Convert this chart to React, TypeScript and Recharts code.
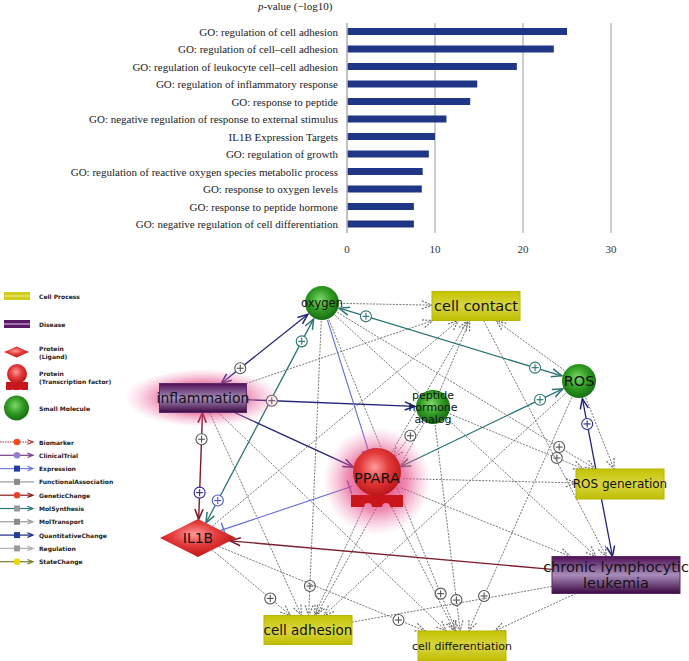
import React from "react";
import {
  BarChart,
  Bar,
  XAxis,
  YAxis,
  CartesianGrid,
  ReferenceLine,
  ScatterChart,
  Scatter,
} from "recharts";

// ---- enrichment bars ----
const goTerms = [
  "GO: regulation of cell adhesion",
  "GO: regulation of cell\u2013cell adhesion",
  "GO: regulation of leukocyte cell\u2013cell adhesion",
  "GO: regulation of inflammatory response",
  "GO: response to peptide",
  "GO: negative regulation of response to external stimulus",
  "IL1B Expression Targets",
  "GO: regulation of growth",
  "GO: regulation of reactive oxygen species metabolic process",
  "GO: response to oxygen levels",
  "GO: response to peptide hormone",
  "GO: negative regulation of cell differentiation",
];
const goScores = [25.0, 23.5, 19.3, 14.8, 14.0, 11.3, 10.0, 9.3, 8.6, 8.5, 7.6, 7.6];
const scoreTicks = [0, 10, 20, 30];

// ---- network ----
const nodeIds = ["oxygen", "cellContact", "ros", "inflammation", "peptide", "ppara", "il1b", "rosGen", "cll", "cellAdhesion", "cellDiff"];
const nodeLabels = ["oxygen", "cell contact", "ROS", "inflammation", "peptide\nhormone\nanalog", "PPARA", "IL1B", "ROS generation", "chronic lymphocytic\nleukemia", "cell adhesion", "cell differentiation"];
const nodeKinds = ["molecule", "process", "molecule", "disease", "molecule", "tf", "ligand", "process", "disease", "process", "process"];
const nodeX = [322, 476, 579, 203, 433, 377, 198, 620, 616, 308, 462];
const nodeY = [303, 306, 381, 398, 407, 478, 538, 484, 575, 630, 646];
const glowIds = ["inflammation", "ppara"];

// from, to, relation, heads, plus marks [t, colour]
type Edge = [string, string, string, string, [number, string][]];
const edges: Edge[] = [
  ["oxygen", "cellContact", "reg", "to", []],
  ["oxygen", "cellAdhesion", "reg", "to", [[0.9, "g"]]],
  ["oxygen", "cellDiff", "reg", "to", [[0.88, "g"]]],
  ["oxygen", "rosGen", "reg", "to", [[0.86, "g"]]],
  ["oxygen", "cll", "reg", "to", []],
  ["inflammation", "cellContact", "reg", "to", []],
  ["inflammation", "cellAdhesion", "reg", "to", []],
  ["inflammation", "cellDiff", "reg", "to", []],
  ["il1b", "cellContact", "reg", "to", []],
  ["il1b", "cellAdhesion", "reg", "to", [[0.74, "g"]]],
  ["il1b", "cellDiff", "reg", "to", [[0.87, "g"]]],
  ["ppara", "cellContact", "reg", "to", []],
  ["ppara", "rosGen", "reg", "to", []],
  ["ppara", "cll", "reg", "to", []],
  ["ppara", "cellAdhesion", "reg", "to", []],
  ["ppara", "cellDiff", "reg", "to", []],
  ["peptide", "ppara", "reg", "to", [[0.4, "g"]]],
  ["peptide", "cellContact", "reg", "to", []],
  ["peptide", "cellAdhesion", "reg", "to", []],
  ["peptide", "rosGen", "reg", "to", [[0.8, "g"]]],
  ["peptide", "cellDiff", "reg", "to", [[0.85, "g"]]],
  ["ros", "cellContact", "reg", "to", []],
  ["ros", "cellAdhesion", "reg", "to", []],
  ["ros", "cellDiff", "reg", "to", [[0.85, "g"]]],
  ["ros", "rosGen", "reg", "to", []],
  ["cellContact", "cll", "reg", "to", []],
  ["cll", "cellDiff", "reg", "to", []],
  ["cll", "cellAdhesion", "reg", "none", []],
  ["inflammation", "oxygen", "quant", "both", [[0.22, "g"]]],
  ["oxygen", "ros", "molsyn", "both", [[0.12, "t"], [0.88, "t"]]],
  ["il1b", "oxygen", "molsyn", "both", [[0.11, "b"], [0.89, "t"]]],
  ["inflammation", "il1b", "genetic", "both", [[0.25, "g"], [0.75, "n"]]],
  ["inflammation", "peptide", "quant", "to", [[0.15, "g"]]],
  ["inflammation", "ppara", "quant", "to", []],
  ["oxygen", "ppara", "expr", "tee", []],
  ["ppara", "il1b", "expr", "teeBoth", []],
  ["ros", "ppara", "molsyn", "both", [[0.14, "t"]]],
  ["ros", "cll", "quant", "both", [[0.16, "n"]]],
  ["cll", "il1b", "genetic", "to", []],
];

// ---- legend ----
const legendNodeLabels = ["Cell Process", "Disease", "Protein\n(Ligand)", "Protein\n(Transcription factor)", "Small Molecule"];
const legendNodeKinds = ["process", "disease", "ligand", "tf", "molecule"];
const legendEdgeLabels = ["Biomarker", "ClinicalTrial", "Expression", "FunctionalAssociation", "GeneticChange", "MolSynthesis", "MolTransport", "QuantitativeChange", "Regulation", "StateChange"];

// ---- styles ----
const NODE_BOX: Record<string, [number, number]> = {
  inflammation: [87, 29],
  cellContact: [88, 29],
  rosGen: [88, 30],
  cll: [128, 37],
  cellAdhesion: [88, 29],
  cellDiff: [88, 30],
};
const LABEL_SIZE: Record<string, number> = {
  oxygen: 11.5, cellContact: 14.5, ros: 14.5, inflammation: 14, peptide: 11, ppara: 14.5,
  il1b: 14, rosGen: 12, cll: 14.5, cellAdhesion: 13.5, cellDiff: 11,
};
const GLOW_SIZE: Record<string, [number, number, number]> = {
  inflammation: [78, 29, 0],
  ppara: [54, 54, 3],
};
const EDGE_STYLE: Record<string, { color: string; width: number; dash?: string }> = {
  quant: { color: "#23237a", width: 1.3 },
  molsyn: { color: "#2d7474", width: 1.3 },
  expr: { color: "#5f6bd0", width: 1.1 },
  genetic: { color: "#7b1d2b", width: 1.4 },
  reg: { color: "#666", width: 0.9, dash: "2 1.3" },
};
const MARK_COLOR: Record<string, string> = { g: "#555", n: "#2a2a8a", t: "#2d7474", b: "#4a55c8" };
const LEGEND_EDGE: Record<string, { line: string; mark: string; sq: boolean; arrow: boolean; dash?: string }> = {
  Biomarker: { line: "#a0303a", mark: "#f04a20", sq: false, arrow: true, dash: "1.5 1" },
  ClinicalTrial: { line: "#7a3a8a", mark: "#8f80d4", sq: false, arrow: true },
  Expression: { line: "#7080dc", mark: "#1f3fa0", sq: true, arrow: true },
  FunctionalAssociation: { line: "#a0a0a0", mark: "#8a8a8a", sq: true, arrow: false },
  GeneticChange: { line: "#8a1a1a", mark: "#e8402a", sq: false, arrow: true },
  MolSynthesis: { line: "#2a7a7a", mark: "#999", sq: true, arrow: true },
  MolTransport: { line: "#9a9a9a", mark: "#8a8a8a", sq: true, arrow: true },
  QuantitativeChange: { line: "#1a2a8a", mark: "#1f3fa0", sq: true, arrow: true },
  Regulation: { line: "#b0b0b0", mark: "#9a9a9a", sq: true, arrow: true },
  StateChange: { line: "#7a7a2a", mark: "#e8d800", sq: false, arrow: true },
};

const barData = goTerms.map((term, i) => ({ term, score: goScores[i] }));
const nodeData = nodeIds.map((id, i) => ({ id, label: nodeLabels[i], kind: nodeKinds[i], x: nodeX[i], y: nodeY[i] }));
const glowData = nodeData.filter((n) => glowIds.includes(n.id));
const nodeIndex = (id: string) => nodeIds.indexOf(id);

function TermTick(p: any) {
  return (
    <text x={p.x} y={p.y} textAnchor="end" dominantBaseline="central" fontSize={11} fontFamily="Liberation Serif" fill="#222">
      {p.payload.value}
    </text>
  );
}

function clip(cx: number, cy: number, ox: number, oy: number, id: string) {
  const dx = ox - cx, dy = oy - cy;
  const len = Math.hypot(dx, dy) || 1;
  const kind = nodeKinds[nodeIndex(id)];
  let t = 0;
  if (kind === "molecule") t = 18 / len;
  else if (kind === "tf") t = 26 / len;
  else if (kind === "ligand") t = 1 / (Math.abs(dx) / 38 + Math.abs(dy) / 19);
  else {
    const [w, h] = NODE_BOX[id];
    t = Math.min(w / 2 / (Math.abs(dx) || 1e-6), h / 2 / (Math.abs(dy) || 1e-6));
  }
  return { x: cx + dx * t, y: cy + dy * t };
}

function arrowHead(px: number, py: number, ux: number, uy: number, color: string, w: number, dash?: string, L = 11) {
  const c = Math.cos(0.38), s = Math.sin(0.38);
  const ax = px - L * (ux * c - uy * s), ay = py - L * (ux * s + uy * c);
  const bx = px - L * (ux * c + uy * s), by = py - L * (-ux * s + uy * c);
  return <polyline points={`${ax},${ay} ${px},${py} ${bx},${by}`} fill="none" stroke={color} strokeWidth={w + 0.2} strokeDasharray={dash} />;
}

function teeBar(px: number, py: number, ux: number, uy: number, color: string) {
  const qx = px - ux * 3, qy = py - uy * 3;
  return <line x1={qx - uy * 7} y1={qy + ux * 7} x2={qx + uy * 7} y2={qy - ux * 7} stroke={color} strokeWidth={1.4} />;
}

function plusMark(x: number, y: number, color: string, key: number) {
  return (
    <g key={key}>
      <circle cx={x} cy={y} r={5.5} fill="#fff" stroke={color} strokeWidth={1.1} />
      <line x1={x - 3.5} y1={y} x2={x + 3.5} y2={y} stroke={color} strokeWidth={1.1} />
      <line x1={x} y1={y - 3.5} x2={x} y2={y + 3.5} stroke={color} strokeWidth={1.1} />
    </g>
  );
}

function makeEdgeShape(e: Edge) {
  return (p: any) => {
    const { x1, y1, x2, y2 } = p;
    const a = clip(x1, y1, x2, y2, e[0]);
    const b = clip(x2, y2, x1, y1, e[1]);
    const st = EDGE_STYLE[e[2]];
    const len = Math.hypot(b.x - a.x, b.y - a.y) || 1;
    const ux = (b.x - a.x) / len, uy = (b.y - a.y) / len;
    const head = e[3];
    return (
      <g>
        <line x1={a.x} y1={a.y} x2={b.x} y2={b.y} stroke={st.color} strokeWidth={st.width} strokeDasharray={st.dash} />
        {(head === "to" || head === "both") && arrowHead(b.x, b.y, ux, uy, st.color, st.width, st.dash)}
        {head === "both" && arrowHead(a.x, a.y, -ux, -uy, st.color, st.width, st.dash)}
        {(head === "tee" || head === "teeBoth") && teeBar(b.x, b.y, ux, uy, st.color)}
        {head === "teeBoth" && teeBar(a.x, a.y, -ux, -uy, st.color)}
        {e[4].map(([t, c], i) => plusMark(a.x + (b.x - a.x) * t, a.y + (b.y - a.y) * t, MARK_COLOR[c], i))}
      </g>
    );
  };
}

function GlowShape(p: any) {
  const { cx, cy, payload } = p;
  const [rx, ry, dy] = GLOW_SIZE[payload.id];
  return <ellipse cx={cx} cy={cy + dy} rx={rx} ry={ry} fill="url(#gGlow)" />;
}

function NodeShape(p: any) {
  const { cx, cy, payload } = p;
  const id = payload.id as string;
  const fs = LABEL_SIZE[id];
  const lines = String(payload.label).split("\n");
  const lh = id === "cll" ? 16 : fs * 1.1;
  let body: React.ReactNode = null;
  if (payload.kind === "molecule") {
    body = <circle cx={cx} cy={cy} r={17} fill="url(#gGreen)" />;
  } else if (payload.kind === "tf") {
    const by = cy + 17, bb = cy + 29;
    body = (
      <g>
        <path
          d={`M${cx - 26},${by} H${cx + 26} V${bb} H${cx + 13} A4,4 0 0,0 ${cx + 5},${bb} H${cx - 5} A4,4 0 0,0 ${cx - 13},${bb} H${cx - 26} Z`}
          fill="#c8161c"
        />
        <circle cx={cx} cy={cy - 6} r={24} fill="url(#gRed)" />
      </g>
    );
  } else if (payload.kind === "ligand") {
    body = <polygon points={`${cx - 38},${cy} ${cx},${cy - 19} ${cx + 38},${cy} ${cx},${cy + 19}`} fill="url(#gRed)" />;
  } else {
    const [w, h] = NODE_BOX[id];
    body = (
      <rect
        x={cx - w / 2}
        y={cy - h / 2}
        width={w}
        height={h}
        fill={payload.kind === "process" ? "url(#gYellow)" : "url(#gPurple)"}
        stroke={payload.kind === "process" ? "#b8b600" : "#5c2a66"}
        strokeWidth={1}
      />
    );
  }
  return (
    <g>
      {body}
      <text
        x={cx}
        y={cy - ((lines.length - 1) * lh) / 2}
        textAnchor="middle"
        dominantBaseline="central"
        fontSize={fs}
        fontFamily="DejaVu Sans"
        fill="#111"
      >
        {lines.map((l, i) => (
          <tspan key={i} x={cx} dy={i === 0 ? 0 : lh}>
            {l}
          </tspan>
        ))}
      </text>
    </g>
  );
}

const LEGEND_NODE_Y = [16, 44, 72, 97, 128];
const LEGEND_EDGE_Y0 = 162;
const LEGEND_EDGE_STEP = 13.3;

function NetworkLegend() {
  return (
    <svg width={135} height={300} style={{ position: "absolute", left: 0, top: 280 }}>
      {legendNodeKinds.map((k, i) => {
        const y = LEGEND_NODE_Y[i];
        const lines = legendNodeLabels[i].split("\n");
        let glyph: React.ReactNode;
        if (k === "process" || k === "disease") {
          glyph = (
            <g>
              <rect x={4} y={y - 4} width={26} height={8} fill={k === "process" ? "#cfcd1c" : "#5a1a66"} />
              <line x1={4} y1={y} x2={30} y2={y} stroke={k === "process" ? "#e6e46a" : "#b394c4"} strokeWidth={1.5} />
            </g>
          );
        } else if (k === "ligand") {
          glyph = <polygon points={`4,${y} 16.5,${y - 5.5} 29,${y} 16.5,${y + 5.5}`} fill="url(#gRed)" />;
        } else if (k === "tf") {
          glyph = (
            <g>
              <path d={`M6,${y + 5} H28 V${y + 13} H22 A2.5,2.5 0 0,0 19,${y + 13} H14 A2.5,2.5 0 0,0 11,${y + 13} H6 Z`} fill="#c8161c" />
              <circle cx={17} cy={y - 3} r={10} fill="url(#gRed)" />
            </g>
          );
        } else {
          glyph = <circle cx={16.5} cy={y} r={12.5} fill="url(#gGreen)" />;
        }
        return (
          <g key={k}>
            {glyph}
            <text x={39} y={y - ((lines.length - 1) * 7.5) / 2} fontSize={6} fontFamily="DejaVu Sans" fontWeight={600} fill="#222" dominantBaseline="central">
              {lines.map((l, j) => (
                <tspan key={j} x={39} dy={j === 0 ? 0 : 7.5}>
                  {l}
                </tspan>
              ))}
            </text>
          </g>
        );
      })}
      {legendEdgeLabels.map((name, i) => {
        const y = LEGEND_EDGE_Y0 + i * LEGEND_EDGE_STEP;
        const st = LEGEND_EDGE[name];
        return (
          <g key={name}>
            <line x1={0} y1={y} x2={st.arrow ? 32 : 34} y2={y} stroke={st.line} strokeWidth={1.2} strokeDasharray={st.dash} />
            {st.arrow && arrowHead(33, y, 1, 0, st.line, 1, undefined, 6)}
            {st.sq ? (
              <rect x={14} y={y - 3} width={6} height={6} fill={st.mark} />
            ) : (
              <circle cx={17} cy={y} r={3.3} fill={st.mark} />
            )}
            <text x={39} y={y} fontSize={6} fontFamily="DejaVu Sans" fontWeight={600} fill="#222" dominantBaseline="central">
              {name}
            </text>
          </g>
        );
      })}
    </svg>
  );
}

export default function App() {
  return (
    <div style={{ position: "absolute", left: 0, top: 0, width: 689, height: 661, background: "#fff", overflow: "hidden" }}>
      <svg width={0} height={0} style={{ position: "absolute" }}>
        <defs>
          <radialGradient id="gGreen" cx="45%" cy="40%" r="60%">
            <stop offset="0%" stopColor="#7fd86a" />
            <stop offset="55%" stopColor="#2f9a22" />
            <stop offset="100%" stopColor="#176e12" />
          </radialGradient>
          <radialGradient id="gRed" cx="45%" cy="40%" r="60%">
            <stop offset="0%" stopColor="#ff9a9a" />
            <stop offset="50%" stopColor="#e33a3a" />
            <stop offset="100%" stopColor="#bc1616" />
          </radialGradient>
          <linearGradient id="gYellow" x1="0" y1="0" x2="0" y2="1">
            <stop offset="0%" stopColor="#c4c200" />
            <stop offset="50%" stopColor="#d8d640" />
            <stop offset="100%" stopColor="#bfbd00" />
          </linearGradient>
          <linearGradient id="gPurple" x1="0" y1="0" x2="0" y2="1">
            <stop offset="0%" stopColor="#4e1054" />
            <stop offset="50%" stopColor="#a88cba" />
            <stop offset="100%" stopColor="#3c0842" />
          </linearGradient>
          <radialGradient id="gGlow">
            <stop offset="0%" stopColor="#d81b60" stopOpacity={0.95} />
            <stop offset="55%" stopColor="#e2407f" stopOpacity={0.6} />
            <stop offset="100%" stopColor="#f080b0" stopOpacity={0} />
          </radialGradient>
        </defs>
      </svg>

      <div style={{ position: "absolute", left: 258, top: 0, fontFamily: "Liberation Serif", fontSize: 11, lineHeight: "13px", color: "#222", whiteSpace: "nowrap" }}>
        <i>p</i>-value (−log10)
      </div>

      <div style={{ position: "absolute", left: 0, top: 0 }}>
        <BarChart width={689} height={262} data={barData} layout="vertical" margin={{ top: 23, right: 78, bottom: 0, left: 0 }}>
          <CartesianGrid horizontal={false} stroke="#bdbdbd" strokeWidth={1.5} />
          <XAxis
            type="number"
            domain={[0, 30]}
            ticks={scoreTicks}
            axisLine={false}
            tickLine={false}
            height={29}
            tickMargin={6}
            tick={{ fontSize: 11, fill: "#333", fontFamily: "Liberation Serif" }}
          />
          <YAxis
            type="category"
            dataKey="term"
            width={347}
            axisLine={false}
            tickLine={false}
            tickMargin={3}
            interval={0}
            tick={TermTick}
          />
          <ReferenceLine x={0} stroke="#bdbdbd" strokeWidth={1.5} />
          <Bar dataKey="score" fill="#1f3586" barSize={7} isAnimationActive={false} />
        </BarChart>
      </div>

      <div style={{ position: "absolute", left: 0, top: 262 }}>
        <ScatterChart width={689} height={399} margin={{ top: 0, right: 0, bottom: 0, left: 0 }}>
          <XAxis type="number" dataKey="x" domain={[0, 689]} hide allowDataOverflow />
          <YAxis type="number" dataKey="y" domain={[262, 661]} reversed hide allowDataOverflow />
          <Scatter data={glowData} shape={GlowShape} isAnimationActive={false} />
          {edges.map((e, i) => {
            const f = nodeIndex(e[0]);
            const t = nodeIndex(e[1]);
            return (
              <ReferenceLine
                key={i}
                segment={[
                  { x: nodeX[f], y: nodeY[f] },
                  { x: nodeX[t], y: nodeY[t] },
                ]}
                ifOverflow="visible"
                shape={makeEdgeShape(e)}
              />
            );
          })}
          <Scatter data={nodeData} shape={NodeShape} isAnimationActive={false} />
        </ScatterChart>
      </div>

      <NetworkLegend />
    </div>
  );
}
